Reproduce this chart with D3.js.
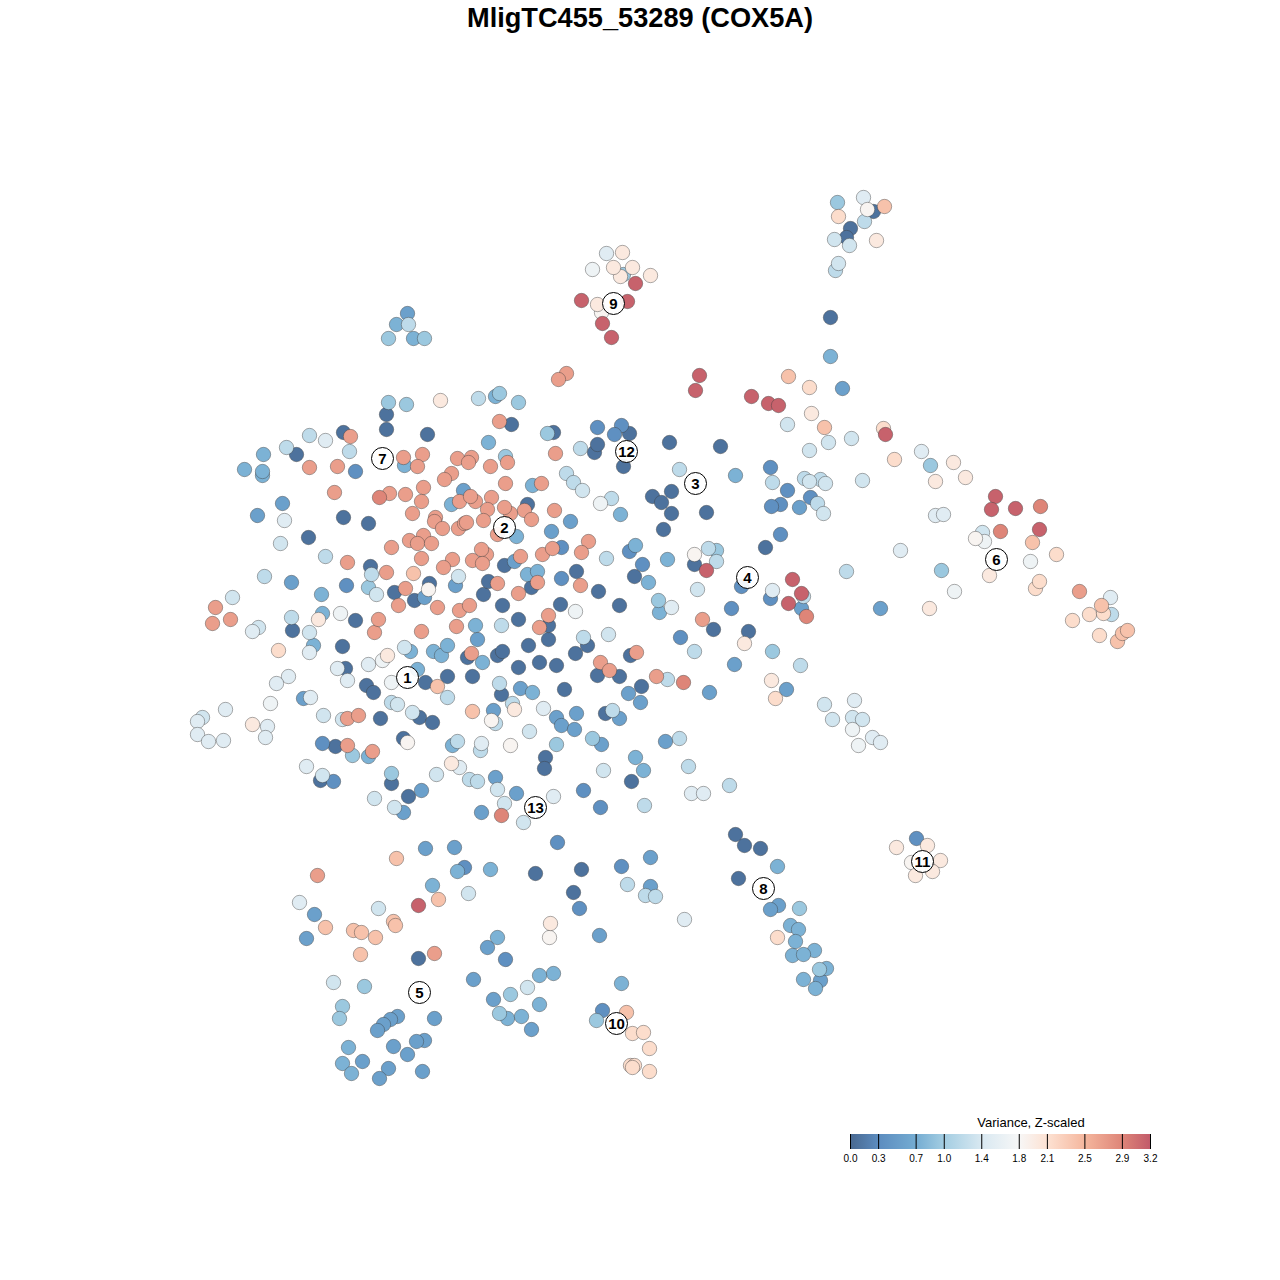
<!DOCTYPE html>
<html><head><meta charset="utf-8"><title>MligTC455_53289 (COX5A)</title>
<script src="https://cdnjs.cloudflare.com/ajax/libs/d3/7.8.5/d3.min.js"></script>
<style>html,body{margin:0;padding:0;background:#fff}svg{display:block}text{font-family:"Liberation Sans",Arial,sans-serif}</style>
</head><body><svg id="c" width="1280" height="1280"></svg>
<script>
const chartTitle="MligTC455_53289 (COX5A)";
const legendTitle="Variance, Z-scaled";
const legendTicks=["0.0","0.3","0.7","1.0","1.4","1.8","2.1","2.5","2.9","3.2"];
const colorStops=[0,0.3,0.7,1.0,1.4,1.8,2.1,2.5,2.9,3.2];
const colorValues=["#486890","#5c8cbf","#74acd2","#a3cde2","#d8e8f1","#f7f7f7","#fde2d3","#f5b79e","#de8578","#c25b6a"];

// Cells grouped by their variance: [tsne1, tsne2]
const v008=[[343,432],[296,454],[343,517],[368,523],[308,537],[370,566],[292,630],[355,620],[342,646],[345,668],[425,682],[366,685],[373,692],[419,717],[432,722],[380,718],[335,746],[403,738],[320,780],[391,783],[408,796],[467,657],[497,655],[502,651],[528,645],[548,639],[518,667],[539,662],[556,665],[575,653],[587,645],[447,676],[472,676],[501,694],[564,689],[545,757],[544,768],[631,781],[605,713],[641,686],[597,675],[619,676],[630,655],[594,452],[597,444],[623,466],[629,433],[669,442],[720,446],[765,547],[652,496],[671,491],[661,502],[671,513],[706,512],[663,529],[634,576],[694,564],[598,591],[619,605],[713,629],[748,631],[386,414],[386,429],[427,434],[511,424],[553,432],[527,504],[504,565],[576,571],[531,587],[429,583],[414,600],[394,592],[483,594],[488,581],[502,605],[560,604],[518,619],[548,625],[873,211],[850,228],[846,237],[830,317],[418,958],[735,834],[744,845],[760,848],[738,878],[581,869],[535,873],[573,892]];
const v035=[[355,471],[346,585],[333,781],[322,743],[770,467],[787,490],[780,504],[771,506],[810,497],[780,534],[629,551],[642,564],[741,586],[731,608],[770,598],[680,637],[597,427],[621,425],[614,434],[583,790],[600,807],[557,842],[579,908],[621,866],[505,959],[602,1010],[464,867],[561,578],[561,547],[916,838]];
const v055=[[282,503],[257,515],[291,582],[421,790],[403,812],[425,848],[454,847],[463,490],[570,521],[551,531],[514,561],[455,585],[424,597],[477,639],[493,710],[520,688],[556,717],[576,713],[561,725],[574,729],[601,744],[495,777],[516,793],[481,812],[619,718],[628,693],[640,702],[303,698],[734,664],[709,692],[786,689],[665,741],[801,608],[842,388],[880,608],[407,313],[314,914],[306,938],[487,947],[473,979],[493,999],[434,1018],[397,1016],[390,1019],[383,1024],[377,1030],[424,1040],[416,1041],[393,1046],[407,1054],[362,1061],[388,1068],[422,1071],[379,1078],[531,1029],[599,935],[650,857],[650,886],[778,905],[770,909],[820,980],[799,507]];
const v075=[[263,454],[244,469],[262,475],[262,471],[321,594],[322,613],[313,645],[417,669],[410,651],[433,651],[441,655],[447,645],[482,662],[532,692],[452,745],[368,756],[635,757],[643,770],[488,442],[532,485],[451,504],[516,536],[620,514],[735,475],[635,545],[648,582],[667,559],[659,612],[475,625],[527,574],[537,571],[396,324],[413,338],[830,356],[457,871],[490,869],[432,885],[497,937],[348,1047],[342,1063],[351,1073],[507,1018],[521,1016],[553,973],[539,975],[539,1004],[621,983],[777,866],[790,925],[798,929],[795,941],[814,950],[792,955],[803,954],[826,968],[803,979],[815,988],[404,465],[495,396]];
const v095=[[368,587],[391,773],[505,456],[424,338],[388,338],[388,402],[406,404],[499,393],[518,402],[547,433],[352,755],[930,465],[837,202],[941,570],[772,651],[716,550],[592,738],[556,744],[658,600],[799,908],[364,986],[510,994],[342,1006],[339,1018],[499,1013],[819,969],[596,1020],[623,274]];
const v120=[[309,435],[349,451],[286,447],[325,556],[264,576],[291,617],[371,574],[391,702],[447,697],[499,683],[512,703],[495,723],[457,741],[480,750],[469,779],[477,781],[644,805],[694,651],[800,665],[667,679],[679,738],[688,766],[729,785],[583,637],[501,625],[566,473],[573,482],[580,448],[611,498],[772,482],[804,478],[820,479],[817,503],[606,558],[708,548],[716,561],[803,596],[679,469],[612,710],[478,398],[408,324],[864,221],[835,270],[846,571],[1111,614],[627,884],[645,895],[655,896]];
const v135=[[280,543],[232,597],[309,632],[397,704],[412,712],[323,715],[404,647],[342,719],[374,798],[394,807],[322,775],[529,731],[497,789],[504,803],[523,822],[603,770],[824,704],[832,719],[852,717],[862,719],[787,424],[809,450],[828,442],[809,481],[825,483],[823,513],[608,634],[697,589],[458,576],[376,594],[582,490],[436,774],[468,893],[378,908],[834,239],[849,245],[838,263],[851,438],[862,480],[982,532],[333,982],[527,987],[258,627],[202,717]];
const v150=[[325,440],[252,631],[310,697],[288,676],[276,683],[225,709],[197,721],[267,726],[265,737],[197,734],[208,741],[223,740],[306,766],[309,652],[337,668],[368,664],[347,680],[481,743],[553,796],[543,708],[854,700],[872,737],[880,742],[691,793],[703,793],[671,607],[772,590],[863,197],[921,451],[935,515],[943,514],[900,550],[1110,597],[299,902],[684,919],[606,253],[459,767],[284,520]];
const v168=[[340,613],[382,660],[270,703],[852,729],[858,745],[575,611],[600,503],[592,269],[984,541],[1030,561],[954,591],[391,682]];
const v185=[[407,742],[491,720],[428,589],[694,554],[867,209],[601,312],[510,745],[549,937],[975,538],[911,862]];
const v200=[[318,619],[387,655],[252,724],[514,709],[744,643],[771,680],[451,763],[876,240],[597,304],[620,276],[650,275],[622,252],[613,267],[632,267],[440,400],[811,413],[953,462],[935,481],[965,477],[989,575],[929,608],[550,923],[927,845],[896,847],[940,860],[915,875],[932,871]];
const v215=[[278,650],[775,698],[777,937],[838,216],[883,428],[894,459],[1035,588],[1039,581],[1089,614],[1103,613],[1072,620],[1099,635],[1056,554],[809,387],[632,1033],[643,1032],[649,1048],[630,1065],[634,1065],[632,1067],[649,1071]];
const v240=[[396,858],[472,711],[437,686],[884,206],[824,427],[1032,542],[1101,605],[438,899],[325,927],[353,930],[361,932],[375,937],[393,921],[395,925],[360,954],[626,1012],[1117,641],[1122,633],[1127,630],[788,376],[413,573]];
const v270=[[350,436],[309,467],[337,466],[334,492],[347,562],[215,607],[230,619],[212,623],[374,632],[347,718],[358,715],[347,745],[372,751],[317,875],[471,653],[600,662],[609,670],[636,652],[656,676],[702,619],[566,373],[558,379],[499,421],[555,453],[403,457],[422,454],[417,466],[457,458],[471,457],[468,462],[490,466],[507,462],[451,473],[444,479],[505,483],[541,483],[423,487],[389,493],[405,494],[421,501],[459,501],[475,501],[470,496],[491,497],[412,513],[435,517],[434,521],[442,528],[510,513],[487,509],[504,507],[524,510],[531,519],[554,510],[483,520],[458,528],[464,523],[466,522],[497,534],[423,535],[409,540],[417,543],[431,543],[391,547],[421,558],[486,554],[481,549],[472,560],[482,563],[452,559],[443,567],[520,556],[542,554],[552,548],[588,541],[581,552],[580,585],[537,582],[386,572],[497,583],[405,588],[518,593],[398,605],[437,607],[459,610],[469,605],[378,619],[421,631],[456,626],[548,615],[539,627],[434,953],[1079,591]];
const v290=[[379,497],[501,815],[683,682],[806,616],[1040,506],[1000,531]];
const v315=[[706,570],[792,579],[801,593],[788,603],[635,283],[581,300],[627,301],[602,323],[611,337],[699,375],[695,390],[751,396],[768,403],[778,405],[885,434],[995,496],[991,509],[1015,508],[1039,529],[418,905]];
const varianceLevels=[0.08,0.35,0.55,0.75,0.95,1.2,1.35,1.5,1.68,1.85,2.0,2.15,2.4,2.7,2.9,3.15];
const levelCells=[v008,v035,v055,v075,v095,v120,v135,v150,v168,v185,v200,v215,v240,v270,v290,v315];

const clusterNames=["1","2","3","4","5","6","7","8","9","10","11","12","13"];
const clusterX=[407,504,695,747,419,996,382,763,613,616,922,626,535];
const clusterY=[677,527,483,577,992,559,458,888,303,1023,861,451,807];

const svg=d3.select("#c");
const x=d3.scaleLinear().domain([0,1280]).range([0.5,1280.5]);
const y=d3.scaleLinear().domain([0,1280]).range([0.5,1280.5]);
const color=d3.scaleLinear().domain(colorStops).range(colorValues);

svg.append("text").attr("x",640).attr("y",27).attr("text-anchor","middle")
  .attr("font-size",27.2).attr("font-weight","bold").attr("fill","#000").text(chartTitle);

const cells=levelCells.flatMap((list,i)=>list.map(p=>({x:p[0],y:p[1],v:varianceLevels[i]})));
svg.append("g").selectAll("circle").data(cells).join("circle")
  .attr("cx",d=>x(d.x)).attr("cy",d=>y(d.y)).attr("r",7.2)
  .attr("fill",d=>color(d.v)).attr("stroke","#3c3c3c").attr("stroke-opacity",0.42).attr("stroke-width",1);

const labels=svg.append("g").selectAll("g").data(clusterNames).join("g")
  .attr("transform",(d,i)=>`translate(${x(clusterX[i])},${y(clusterY[i])})`);
labels.append("circle").attr("r",11).attr("fill","#fff").attr("fill-opacity",0.92).attr("stroke","#000").attr("stroke-width",1);
labels.append("text").attr("text-anchor","middle").attr("dy","0.36em").attr("font-size",15).attr("font-weight","bold").attr("fill","#000").text(d=>d);

// Legend
const lx=d3.scaleLinear().domain([0,3.2]).range([850,1150]);
const grad=svg.append("defs").append("linearGradient").attr("id","lg").attr("x1","0%").attr("x2","100%");
colorStops.forEach((s,i)=>grad.append("stop").attr("offset",(s/3.2*100)+"%").attr("stop-color",colorValues[i]));
svg.append("rect").attr("x",lx(0)).attr("y",1134).attr("width",lx(3.2)-lx(0)).attr("height",15).attr("fill","url(#lg)");
const axis=d3.axisBottom(lx).tickValues(legendTicks.map(Number)).tickFormat(d3.format(".1f")).tickSize(0).tickPadding(6);
const ag=svg.append("g").attr("transform","translate(0,1149)").call(axis);
ag.select(".domain").remove();
ag.selectAll("text").attr("font-size",10).attr("fill","#000").style("font-family",'"Liberation Sans",Arial,sans-serif');
svg.append("g").selectAll("line").data(legendTicks).join("line")
  .attr("x1",d=>lx(+d)+0.5).attr("x2",d=>lx(+d)+0.5).attr("y1",1134).attr("y2",1149).attr("stroke","#000").attr("stroke-width",1);
svg.append("text").attr("x",1031).attr("y",1127).attr("text-anchor","middle").attr("font-size",13).attr("fill","#000").text(legendTitle);
</script></body></html>
